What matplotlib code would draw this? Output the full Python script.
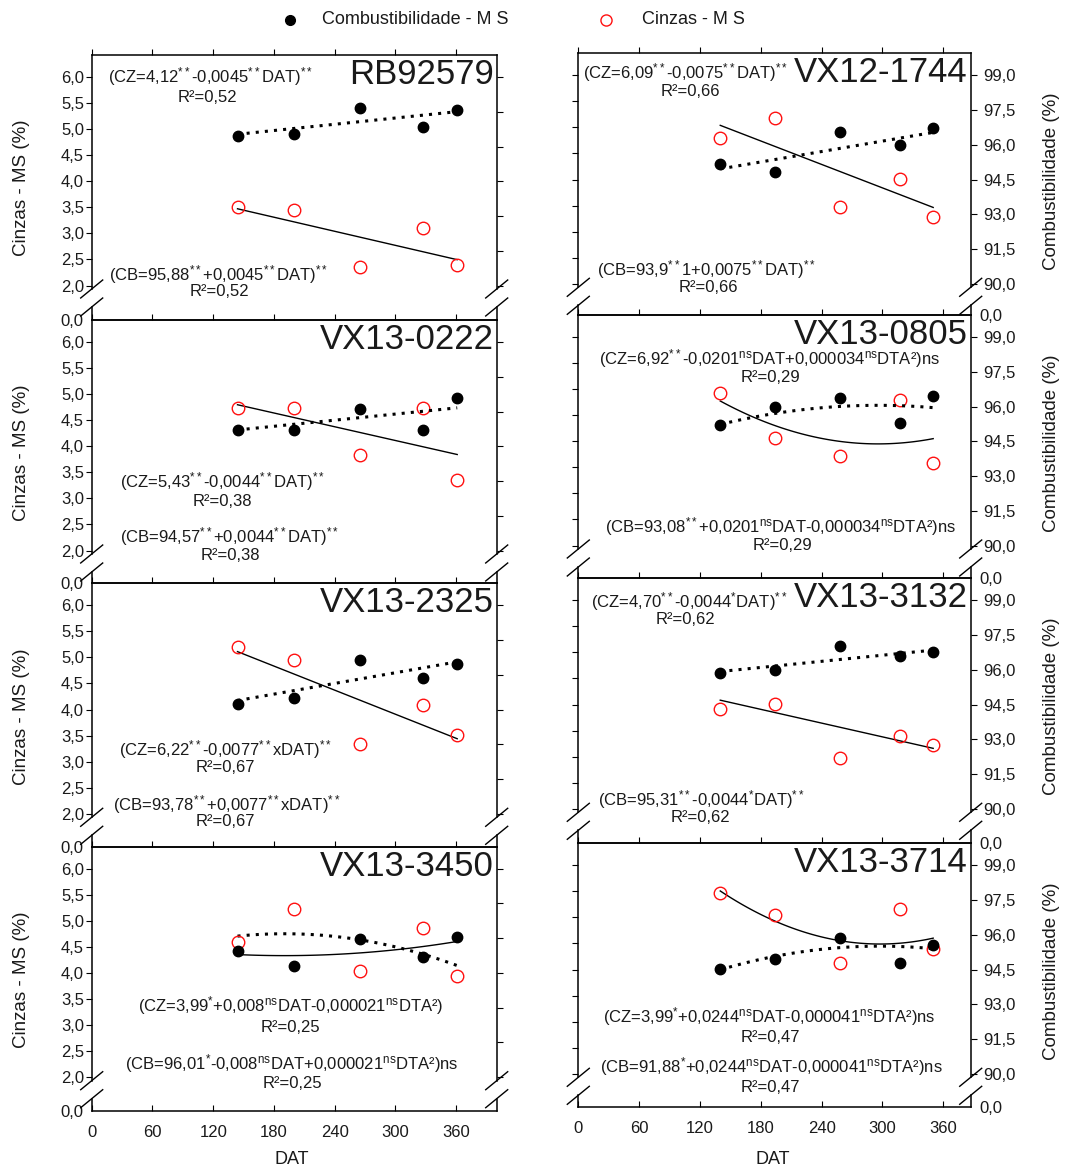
import numpy as np
import matplotlib
matplotlib.use('Agg')
import matplotlib.pyplot as plt
from matplotlib.lines import Line2D

plt.rcParams['font.family'] = ['Liberation Sans', 'DejaVu Sans']
plt.rcParams['mathtext.fontset'] = 'custom'
plt.rcParams['mathtext.rm'] = 'Liberation Sans'
plt.rcParams['mathtext.it'] = 'Liberation Sans'
plt.rcParams['mathtext.default'] = 'regular'

# ---------------- data ----------------
genotypes = ['RB92579', 'VX12-1744', 'VX13-0222', 'VX13-0805',
             'VX13-2325', 'VX13-3132', 'VX13-3450', 'VX13-3714']
dat_left = [144, 200, 265, 327, 361]     # left column panels
dat_right = [140, 194, 258, 317, 350]    # right column panels

# Cinzas - MS (%) (red open circles, left scale)
cinzas = [[3.50, 3.45, 2.35, 3.10, 2.40],
          [4.80, 5.19, 3.48, 4.02, 3.29],
          [4.73, 4.73, 3.84, 4.74, 3.36],
          [4.92, 4.06, 3.71, 4.80, 3.59],
          [5.20, 4.95, 3.34, 4.09, 3.51],
          [3.91, 4.02, 2.97, 3.40, 3.23],
          [4.59, 5.22, 4.03, 4.87, 3.95],
          [5.46, 5.04, 4.13, 5.16, 4.39]]

# Combustibilidade - MS (%) (black dots, right scale)
combust = [[96.46, 96.53, 97.65, 96.86, 97.58],
           [95.19, 94.83, 96.54, 95.97, 96.71],
           [95.20, 95.20, 96.10, 95.20, 96.57],
           [95.18, 95.98, 96.35, 95.28, 96.47],
           [94.75, 95.02, 96.64, 95.87, 96.46],
           [95.85, 96.00, 97.01, 96.58, 96.78],
           [95.45, 94.82, 95.96, 95.18, 96.05],
           [94.53, 94.94, 95.85, 94.79, 95.56]]

# regression coefficients (constant, DAT, DAT^2)
cz_coef = [[4.12, -0.0045], [6.09, -0.0075], [5.43, -0.0044],
           [6.92, -0.0201, 0.000034], [6.22, -0.0077], [4.70, -0.0044],
           [3.99, 0.008, -0.000021], [8.12, -0.0244, 0.000041]]
cb_coef = [[95.88, 0.0045], [93.91, 0.0075], [94.57, 0.0044],
           [93.08, 0.0201, -0.000034], [93.78, 0.0077], [95.31, 0.0044],
           [96.01, -0.008, 0.000021], [91.88, 0.0244, -0.000041]]
r2 = ['0,52', '0,66', '0,38', '0,29', '0,67', '0,62', '0,25', '0,47']

S = r'$^{**}$'
s1 = r'$^{*}$'
NS = r'$^{\mathrm{ns}}$'
eq_cz = ['(CZ=4,12' + S + '-0,0045' + S + 'DAT)' + S,
         '(CZ=6,09' + S + '-0,0075' + S + 'DAT)' + S,
         '(CZ=5,43' + S + '-0,0044' + S + 'DAT)' + S,
         '(CZ=6,92' + S + '-0,0201' + NS + 'DAT+0,000034' + NS + 'DTA²)ns',
         '(CZ=6,22' + S + '-0,0077' + S + 'xDAT)' + S,
         '(CZ=4,70' + S + '-0,0044' + s1 + 'DAT)' + S,
         '(CZ=3,99' + s1 + '+0,008' + NS + 'DAT-0,000021' + NS + 'DTA²)',
         '(CZ=3,99' + s1 + '+0,0244' + NS + 'DAT-0,000041' + NS + 'DTA²)ns']
eq_cb = ['(CB=95,88' + S + '+0,0045' + S + 'DAT)' + S,
         '(CB=93,9' + S + '1+0,0075' + S + 'DAT)' + S,
         '(CB=94,57' + S + '+0,0044' + S + 'DAT)' + S,
         '(CB=93,08' + S + '+0,0201' + NS + 'DAT-0,000034' + NS + 'DTA²)ns',
         '(CB=93,78' + S + '+0,0077' + S + 'xDAT)' + S,
         '(CB=95,31' + S + '-0,0044' + s1 + 'DAT)' + S,
         '(CB=96,01' + s1 + '-0,008' + NS + 'DAT+0,000021' + NS + 'DTA²)ns',
         '(CB=91,88' + s1 + '+0,0244' + NS + 'DAT-0,000041' + NS + 'DTA²)ns']

cinzas_ticks = [2.0, 2.5, 3.0, 3.5, 4.0, 4.5, 5.0, 5.5, 6.0]
comb_ticks = [90.0, 91.5, 93.0, 94.5, 96.0, 97.5, 99.0]
dat_ticks = [0, 60, 120, 180, 240, 300, 360]

# ---------------- layout (pixels) ----------------
W, H = 1077, 1168
col_x = [(91.7, 496.7), (578.3, 970.7)]
col_xmax = [400, 387]
row_top = [[55, 320, 583.3, 846.7], [53.3, 315, 578.3, 843.3]]
# text centres: CZ eq, R2, CB eq, R2
txt_pos = [[(210, 77), (207, 97), (219, 275), (219, 292)],
           [(685, 73), (690, 92), (707, 270), (708, 288)],
           [(222, 482), (222, 502), (230, 537), (230, 555)],
           [(769, 359), (770, 378), (781, 527), (782, 545)],
           [(226, 750), (225, 768), (227, 805), (225, 822)],
           [(689, 602), (685, 620), (701, 800), (700, 818)],
           [(291, 1006), (290, 1027), (292, 1064), (292, 1083)],
           [(769, 1017), (770, 1037), (771, 1067), (770, 1088)]]
cz_style = ['solid'] * 6 + ['dotted', 'solid']
cb_style = ['dotted'] * 6 + ['solid', 'dotted']

z_lo, z_hi = 1.933, 6.422


def z2c(z):
    return 90 + (z - 2) * 2.25


def fx(px):
    return px / W


def fy(py):
    return 1 - py / H


def brk(x, y):
    fig.add_artist(Line2D([fx(x - 11), fx(x + 11)], [fy(y + 9), fy(y - 9)],
                          transform=fig.transFigure, color='black', lw=1))


def fmt(v):
    return ('%.1f' % v).replace('.', ',')


fig = plt.figure(figsize=(W / 100, H / 100), dpi=100)
tc = '#1a1a1a'
fs_tick = 12
fs_eq = 12
dotted = (0, (1, 2))

for i, name in enumerate(genotypes):
    col = i % 2
    row = i // 2
    x0, x1 = col_x[col]
    T = row_top[col][row]
    dat = dat_left if col == 0 else dat_right
    ax = fig.add_axes([fx(x0), fy(T + 234), fx(x1 - x0), 234 / H])
    ax2 = ax.twinx()
    ax.set_xlim(0, col_xmax[col])
    ax.set_ylim(z_lo, z_hi)
    ax2.set_ylim(z2c(z_lo), z2c(z_hi))

    for a in (ax, ax2):
        a.patch.set_visible(False)
        for s in a.spines.values():
            s.set_linewidth(1.1)
    ax.spines['bottom'].set_visible(False)
    ax.spines['right'].set_visible(False)
    for s in ('bottom', 'top', 'left'):
        ax2.spines[s].set_visible(False)

    ax.xaxis.tick_top()
    ax.set_xticks(dat_ticks)
    ax.tick_params(axis='x', direction='out', length=4, labeltop=False)
    ax.set_yticks(cinzas_ticks, labels=[fmt(v) for v in cinzas_ticks])
    ax2.set_yticks(comb_ticks, labels=[fmt(v) for v in comb_ticks])
    ax.tick_params(axis='y', direction='out', length=4, labelsize=fs_tick,
                   labelcolor=tc, pad=1.5, labelleft=(col == 0))
    ax2.tick_params(axis='y', direction='out', length=4, labelsize=fs_tick,
                    labelcolor=tc, pad=5, labelright=(col == 1))

    # fitted curves
    xf = np.linspace(dat[0], dat[-1], 100)
    yz = np.polynomial.polynomial.polyval(xf, cz_coef[i])
    yc = np.polynomial.polynomial.polyval(xf, cb_coef[i])
    ax.plot(xf, yz, color='black', lw=2.2 if cz_style[i] == 'dotted' else 1.0,
            ls=dotted if cz_style[i] == 'dotted' else '-', zorder=2)
    ax2.plot(xf, yc, color='black', lw=2.2 if cb_style[i] == 'dotted' else 1.0,
             ls=dotted if cb_style[i] == 'dotted' else '-', zorder=2)

    ax.plot(dat, cinzas[i], ls='none', marker='o', ms=9, mfc='none',
            mec='#ff1010', mew=1.0, zorder=3)
    ax2.plot(dat, combust[i], ls='none', marker='o', ms=7.5, mfc='black',
             mec='black', zorder=3)

    # genotype title
    fig.text(fx(x1 - 3), fy(T + 29), name, fontsize=25, color=tc,
             ha='right', va='baseline')

    # equations
    (a1, b1), (a2, b2), (a3, b3), (a4, b4) = txt_pos[i]
    fig.text(fx(a1), fy(b1), eq_cz[i], fontsize=fs_eq, color=tc, ha='center', va='center')
    fig.text(fx(a2), fy(b2), 'R²=' + r2[i], fontsize=fs_eq, color=tc, ha='center', va='center')
    fig.text(fx(a3), fy(b3), eq_cb[i], fontsize=fs_eq, color=tc, ha='center', va='center')
    fig.text(fx(a4), fy(b4), 'R²=' + r2[i], fontsize=fs_eq, color=tc, ha='center', va='center')

    # small strip holding the 0,0 level
    sb = row_top[col][row + 1] if row < 3 else T + 264
    sax = fig.add_axes([fx(x0), fy(sb), fx(x1 - x0), (sb - T - 252) / H])
    sax.patch.set_visible(False)
    sax.set_xlim(0, col_xmax[col])
    sax.set_ylim(0, 1)
    sax.spines['top'].set_visible(False)
    for s in sax.spines.values():
        s.set_linewidth(1.1)
    sax.set_yticks([0], labels=['0,0'])
    sax.tick_params(axis='y', which='both', length=0, labelsize=fs_tick,
                    labelcolor=tc, pad=6,
                    labelleft=(col == 0), labelright=(col == 1),
                    left=False, right=False)
    sax.set_xticks(dat_ticks)
    if row == 3:
        sax.tick_params(axis='x', direction='in', length=4, labelsize=fs_tick,
                        labelcolor=tc, pad=10)
        fig.text(fx((x0 + x1) / 2 - 2), fy(1160), 'DAT', fontsize=13,
                 color=tc, ha='center', va='center')
    else:
        sax.tick_params(axis='x', length=0, labelbottom=False)

    # break marks
    for xs in (x0, x1):
        brk(xs, T + 234)
        brk(xs, T + 252)

    # axis titles
    if col == 0:
        fig.text(fx(22), fy(T + 133), 'Cinzas - MS (%)', rotation=90,
                 fontsize=13.5, color=tc, ha='center', va='center')
    else:
        fig.text(fx(1052), fy(T + 128), 'Combustibilidade (%)', rotation=90,
                 fontsize=13.5, color=tc, ha='center', va='center')

# legend on top
fig.add_artist(Line2D([fx(290)], [fy(20)], marker='o', ms=7, color='black',
                      ls='none', transform=fig.transFigure))
fig.text(fx(322), fy(20), 'Combustibilidade - M S', fontsize=13, color=tc,
         ha='left', va='center')
fig.add_artist(Line2D([fx(606)], [fy(20)], marker='o', ms=8, mfc='none',
                      mec='#ff1010', ls='none', transform=fig.transFigure))
fig.text(fx(642), fy(20), 'Cinzas - M S', fontsize=13, color=tc,
         ha='left', va='center')

fig.savefig('out.png', dpi=100)
